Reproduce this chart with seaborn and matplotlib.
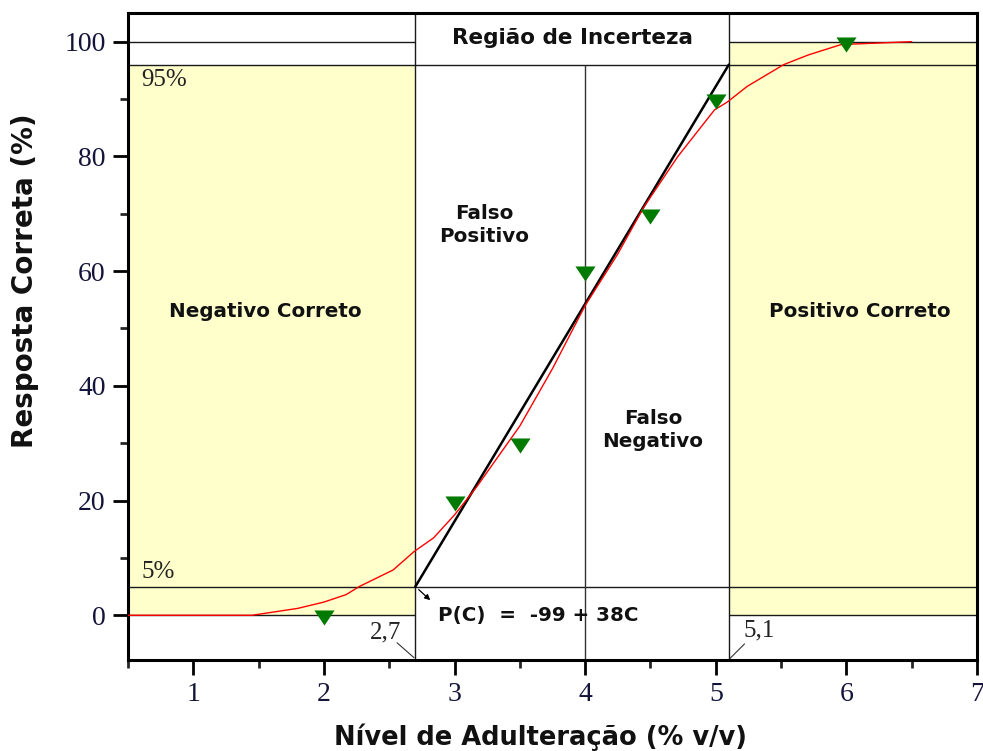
import matplotlib
matplotlib.use("Agg")
import matplotlib.pyplot as plt
import seaborn as sns
from matplotlib.ticker import MultipleLocator

# ---- data ----
obs_x = [2.0, 3.0, 3.5, 4.0, 4.5, 5.0, 6.0]
obs_y = [0, 20, 30, 60, 70, 90, 100]

curve_x = [0.5, 1.0, 1.45, 1.8, 2.0, 2.17, 2.27, 2.53, 2.69, 2.84, 3.0, 3.17, 3.5,
           3.75, 4.0, 4.25, 4.45, 4.71, 4.99, 5.09, 5.24, 5.52, 5.71, 5.96, 6.5]
curve_y = [0, 0, 0, 1.2, 2.3, 3.6, 5.0, 7.9, 11.1, 13.5, 17.5, 22.4, 33,
           43, 54, 63, 71.2, 80, 88.1, 89.5, 92.2, 96, 97.7, 99.5, 100]

fit_x = [2.7, 5.1]
fit_y = [5, 96]

low_limit = 2.7
high_limit = 5.1
mid_line = 4.0
lower_pct = 5
upper_pct = 96

x_ticks = [1, 2, 3, 4, 5, 6, 7]
y_ticks = [0, 20, 40, 60, 80, 100]

sns.set_theme(style="white")
plt.rcParams['font.family'] = ['DejaVu Sans']

fig = plt.figure(figsize=(9.83, 7.51), dpi=100)
ax = fig.add_axes([128/983, 1-660/751, (977-128)/983, (660-13)/751])

XMIN, XMAX = 0.5, 7.0
YMIN, YMAX = -7.8, 105.0

yellow = "#FFFFCC"
ax.fill_between([XMIN, low_limit], 0, upper_pct, color=yellow, lw=0, zorder=0)
ax.fill_between([high_limit, XMAX], 0, 100, color=yellow, lw=0, zorder=0)

lc = "#1a1a1a"
lw = 1.0
ax.hlines(100, XMIN, low_limit, color=lc, lw=lw, zorder=1)
ax.hlines(100, high_limit, XMAX, color=lc, lw=lw, zorder=1)
ax.hlines(upper_pct, XMIN, XMAX, color=lc, lw=lw, zorder=1)
ax.hlines(lower_pct, XMIN, XMAX, color=lc, lw=lw, zorder=1)
ax.hlines(0, XMIN, low_limit, color=lc, lw=lw, zorder=1)
ax.hlines(0, high_limit, XMAX, color=lc, lw=lw, zorder=1)
ax.vlines(low_limit, YMIN, YMAX, color=lc, lw=lw, zorder=1)
ax.vlines(high_limit, YMIN, YMAX, color=lc, lw=lw, zorder=1)
ax.vlines(mid_line, YMIN, upper_pct, color="#333333", lw=lw, zorder=1)

# fitted sigmoid curve
sns.lineplot(x=curve_x, y=curve_y, color="red", lw=1.0, ax=ax, zorder=3, sort=False)
# linear fit
sns.lineplot(x=fit_x, y=fit_y, color="black", lw=1.8, ax=ax, zorder=2)
# observations
tri = [(-1, 0.5), (1, 0.5), (0, -1), (-1, 0.5)]
sns.scatterplot(x=obs_x, y=obs_y, marker=tri, s=210, color="#007a00",
                linewidth=0, ax=ax, zorder=4)

ax.set_xlim(XMIN, XMAX)
ax.set_ylim(YMIN, YMAX)
ax.set_xticks(x_ticks)
ax.set_yticks(y_ticks)
ax.xaxis.set_minor_locator(MultipleLocator(0.5))
ax.yaxis.set_minor_locator(MultipleLocator(10))

for s in ax.spines.values():
    s.set_visible(True)
    s.set_color("black")
    s.set_linewidth(2.2)

ax.tick_params(axis="both", which="major", direction="out", length=11, width=2,
               colors="black", pad=5, bottom=True, left=True)
ax.tick_params(axis="both", which="minor", direction="out", length=6, width=2,
               bottom=True, left=True)
for lab in ax.get_xticklabels() + ax.get_yticklabels():
    lab.set_fontfamily("Liberation Serif")
    lab.set_fontsize(20)
    lab.set_color("#14143a")

ax.set_xlabel("Nível de Adulteração (% v/v)", fontsize=18.5, fontweight="bold",
              color="#111111")
ax.set_ylabel("Resposta Correta (%)", fontsize=20, fontweight="bold",
              color="#111111")
ax.xaxis.set_label_coords(0.486, -0.119)
ax.xaxis.label.set_va("center")
ax.yaxis.set_label_coords(-0.121, 0.587)
ax.yaxis.label.set_va("center")

bold = dict(fontweight="bold", fontsize=14.3, color="#111111", family="DejaVu Sans")
ax.text(3.9, 100.6, "Região de Incerteza", ha="center", va="center",
        **{**bold, "fontsize": 15.5})
ax.text(3.23, 68, "Falso\nPositivo", ha="center", va="center", linespacing=1.3, **bold)
ax.text(1.55, 52.9, "Negativo Correto", ha="center", va="center", **bold)
ax.text(4.52, 32.3, "Falso\nNegativo", ha="center", va="center", linespacing=1.3, **bold)
ax.text(6.1, 52.9, "Positivo Correto", ha="center", va="center", **bold)
ax.text(2.87, 0, "P(C)  =  -99 + 38C", ha="left", va="center", **bold)

serif = dict(family="Liberation Serif", fontsize=18, color="#222222")
ax.text(0.6, 93.3, "95%", ha="left", va="center", **serif)
ax.text(0.6, 7.6, "5%", ha="left", va="center", **serif)
ax.text(2.47, -3.0, "2,7", ha="center", va="center", **serif)
ax.text(5.33, -2.6, "5,1", ha="center", va="center", **serif)

ax.plot([2.56, 2.69], [-4.8, -7.4], color="#333333", lw=0.8)
ax.plot([5.11, 5.22], [-7.5, -5.0], color="#333333", lw=0.8)
ax.annotate("", xy=(2.83, 2.3), xytext=(2.71, 4.8),
            arrowprops=dict(arrowstyle="-|>", color="black", lw=0.9,
                            mutation_scale=8))

fig.savefig("out.png", dpi=100)
